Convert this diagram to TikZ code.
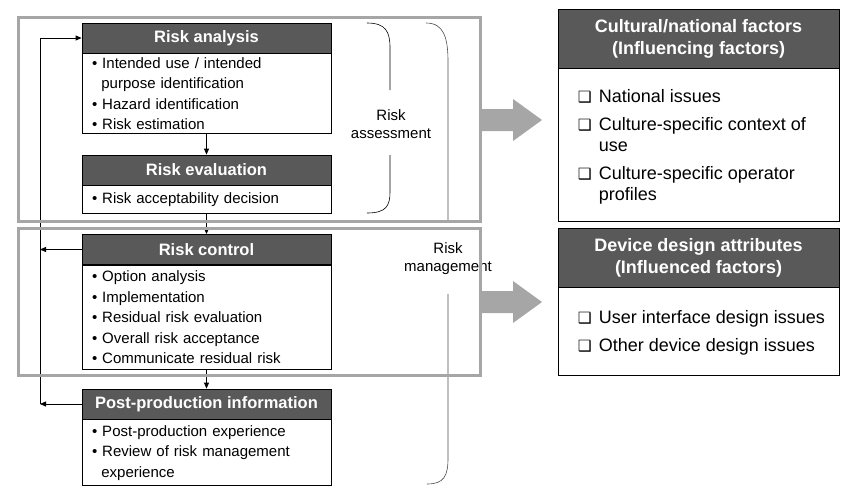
\documentclass[tikz,border=0pt]{standalone}
\usepackage{fontspec}
\setmainfont{Liberation Sans}
\newfontfamily\symfont{DejaVu Sans}
\usetikzlibrary{arrows.meta,calc}
\colorlet{headgray}{black!65}
\colorlet{framegray}{black!35}
\newcommand\bul{\textbullet\ }
\newcommand\bulind{\hspace*{9.4pt}}
\newcommand\cbox{\makebox[21pt][l]{\symfont\fontsize{15.5}{15.5}\selectfont ❑}}
\def\fatarrow(#1,#2){\fill[framegray] (#1,#2-11) -- (513,#2-11) -- (513,#2-21) -- (542,#2) -- (513,#2+21) -- (513,#2+11) -- (#1,#2+11) -- cycle;}
\tikzset{
	head/.style={draw=black, line width=0.8pt, fill=headgray, text=white, font=\bfseries\fontsize{16.5}{18}\selectfont, minimum width=249pt, minimum height=30pt, inner sep=0pt},
	body/.style={draw=black, line width=0.8pt, fill=white, align=left, text width=229pt, inner xsep=10pt, inner ysep=0pt, font=\fontsize{15}{20.5}\selectfont, anchor=north},
	bighead/.style={draw=black, line width=0.8pt, fill=headgray, text=white, align=center, font=\bfseries\fontsize{18}{22}\selectfont, minimum width=281pt, minimum height=59pt, inner sep=0pt},
	bigbody/.style={draw=black, line width=0.8pt, fill=white, minimum width=281pt, inner sep=0pt, anchor=north},
	biglist/.style={align=left, anchor=west, inner sep=0pt, font=\fontsize{18}{21}\selectfont},
	areaframe/.style={draw=framegray, line width=3pt},
	conn/.style={line width=0.8pt, -{Triangle[length=6pt,width=5pt]}},
	bracetext/.style={align=center, font=\fontsize{15}{18}\selectfont},
}
\begin{document}
\begin{tikzpicture}[x=1pt, y=-1pt]
			%%%%% START %%%%%
			\useasboundingbox (0,0) rectangle (853,493);
			
			\node[head] (analysis) at (206.5,38) {Risk analysis};
			\node[body, minimum height=80pt] (analysisbody) at (analysis.south) {\bul Intended use / intended\\\bulind purpose identification\\\bul Hazard identification\\\bul Risk estimation};
			
			\node[head] (evaluation) at (206.5,170) {Risk evaluation};
			\node[body, minimum height=28pt] (evaluationbody) at (evaluation.south) {\bul Risk acceptability decision};
			
			\node[head] (control) at (206.5,249.5) {Risk control};
			\node[body, minimum height=104pt] (controlbody) at (control.south) {\bul Option analysis\\\bul Implementation\\\bul Residual risk evaluation\\\bul Overall risk acceptance\\\bul Communicate residual risk};
			
			\node[head] (postprod) at (206.5,404) {Post-production information};
			\node[body, minimum height=66pt] (postprodbody) at (postprod.south) {\bul Post-production experience\\\bul Review of risk management\\\bulind experience};
			
			\draw[conn] (analysisbody) -- (evaluation);
			\draw[conn] (evaluationbody) -- (control);
			\draw[conn] (controlbody) -- (postprod);
			
			\coordinate (looptop) at (40,38);
			\coordinate (loopbot) at (40,404);
			\draw[conn] (control.west) -- (control.west -| loopbot);
			\draw[conn] (postprod.west) -- (loopbot);
			\draw[conn] (loopbot) -- (looptop) -- (analysis.west);
			
			\draw[line width=0.6pt] (367,23) .. controls (386,23) and (390,32) .. (390,48) -- (390,90);
			\draw[line width=0.6pt] (390,155) -- (390,192) .. controls (390,206) and (386,213) .. (367,213);
			\node[bracetext] (assesstext) at (391,124) {Risk\\assessment};
			
			\draw[line width=0.6pt, black!70] (426,23) .. controls (444,23) and (448,38) .. (448,62) -- (448,220);
			\draw[line width=0.6pt, black!70] (448,294) -- (448,458) .. controls (448,476) and (444,484) .. (427,484);
			\node[bracetext] (managetext) at (448,259) {Risk\\management};
			
			\draw[areaframe] (18,17) rectangle (480,221);
			\draw[areaframe] (18,228) rectangle (480,375);
			
			\fatarrow(482,120)
			\fatarrow(482,302)
			
			\node[bighead] (cultural) at (698.5,38.5) {Cultural/national factors\\(Influencing factors)};
			\node[bigbody, minimum height=153pt] (culturalbody) at (cultural.south) {};
			\node[biglist] (culturallist) at ([xshift=20pt,yshift=-1.5pt]culturalbody.west) {\cbox National issues\\[7pt]\cbox Culture-specific context of\\\hspace*{21pt}use\\[7pt]\cbox Culture-specific operator\\\hspace*{21pt}profiles};
			
			\node[bighead] (device) at (698.5,257.5) {Device design attributes\\(Influenced factors)};
			\node[bigbody, minimum height=88pt] (devicebody) at (device.south) {};
			\node[biglist] (devicelist) at ([xshift=20pt,yshift=-1.5pt]devicebody.west) {\cbox User interface design issues\\[7pt]\cbox Other device design issues};
			
			%%%%% END %%%%%
\end{tikzpicture}
\end{document}
